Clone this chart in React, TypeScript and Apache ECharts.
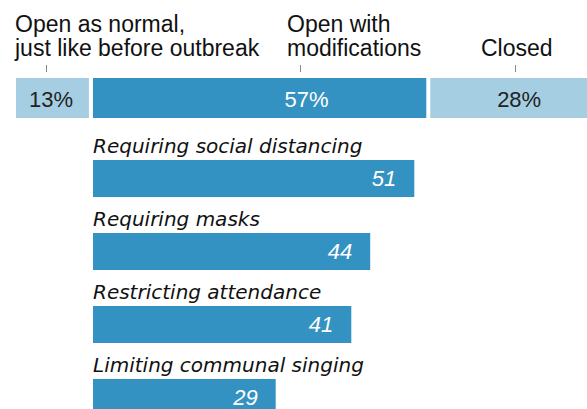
import React, { useEffect, useRef } from "react";
import * as echarts from "echarts";

const topCategories = ["Open as normal,\njust like before outbreak", "Open with\nmodifications", "Closed"];
const topValues = [13, 57, 28];
const topColors = ["#a6cee3", "#3492c2", "#a6cee3"];
const topLabelColors = ["#222222", "#ffffff", "#222222"];
const topLabelShift = [-1.5, 47, 8];

const modCategories = [
  "Requiring social distancing",
  "Requiring masks",
  "Restricting attendance",
  "Limiting communal singing",
];
const modValues = [51, 44, 41, 29];

const FONT = "'Liberation Sans', Arial, sans-serif";
const IFONT = "'DejaVu Sans', sans-serif";

export default function App() {
  const ref = useRef<HTMLDivElement>(null);
  useEffect(() => {
    if (!ref.current) return;
    const chart = echarts.init(ref.current, null, { renderer: "svg" });
    const topSeries = topValues.map((v, i) => ({
      type: "bar",
      name: topCategories[i],
      xAxisIndex: 0,
      yAxisIndex: 0,
      stack: "top",
      barWidth: "100%",
      data: [v],
      itemStyle: { color: topColors[i], borderColor: "#ffffff", borderWidth: 2 },
      label: {
        show: true,
        position: "inside",
        offset: [topLabelShift[i], 1],
        formatter: "{c}%",
        color: topLabelColors[i],
        fontFamily: FONT,
        fontSize: 22,
      },
    }));
    chart.setOption({
      animation: false,
      grid: [
        { left: 14, top: 76, width: 580, height: 44 },
        { left: 93, top: 142, width: 378, height: 292 },
      ],
      xAxis: [
        { type: "value", gridIndex: 0, min: 0, max: 98, show: false },
        { type: "value", gridIndex: 1, min: 0, max: 60, show: false },
      ],
      yAxis: [
        { type: "category", gridIndex: 0, data: ["all"], show: false },
        { type: "category", gridIndex: 1, data: modCategories, inverse: true, show: false },
      ],
      series: [
        ...topSeries,
        {
          type: "bar",
          xAxisIndex: 1,
          yAxisIndex: 1,
          barWidth: 37,
          data: modValues,
          itemStyle: { color: "#3492c2" },
          label: {
            show: true,
            position: "insideRight",
            distance: 18,
            color: "#ffffff",
            fontFamily: FONT,
            fontSize: 22,
            fontStyle: "italic",
          },
        },
        {
          type: "bar",
          xAxisIndex: 1,
          yAxisIndex: 1,
          barWidth: 37,
          barGap: "-100%",
          data: modValues,
          itemStyle: { color: "rgba(0,0,0,0)" },
          silent: true,
          label: {
            show: true,
            position: [0, -4],
            align: "left",
            verticalAlign: "bottom",
            formatter: "{b}",
            color: "#111111",
            fontFamily: IFONT,
            fontSize: 20,
            fontStyle: "italic",
          },
        },
      ],
      graphic: [
        {
          type: "text",
          left: 15,
          top: 12,
          style: { text: topCategories[0], font: `23px ${FONT}`, fill: "#111111", lineHeight: 24 },
        },
        {
          type: "text",
          left: 287,
          top: 12,
          style: { text: topCategories[1], font: `23px ${FONT}`, fill: "#111111", lineHeight: 24 },
        },
        {
          type: "text",
          left: 481,
          top: 36,
          style: { text: topCategories[2], font: `23px ${FONT}`, fill: "#111111", lineHeight: 24 },
        },
        { type: "line", shape: { x1: 46.5, y1: 65, x2: 46.5, y2: 72 }, style: { stroke: "#888888", lineWidth: 1 } },
        { type: "line", shape: { x1: 300.5, y1: 65, x2: 300.5, y2: 72 }, style: { stroke: "#888888", lineWidth: 1 } },
        { type: "line", shape: { x1: 515.5, y1: 65, x2: 515.5, y2: 72 }, style: { stroke: "#888888", lineWidth: 1 } },
      ],
    });
    return () => chart.dispose();
  }, []);
  return (
    <div style={{ position: "absolute", left: 0, top: 0, width: 587, height: 409, overflow: "hidden" }}>
      <div ref={ref} style={{ width: 620, height: 440 }} />
    </div>
  );
}
